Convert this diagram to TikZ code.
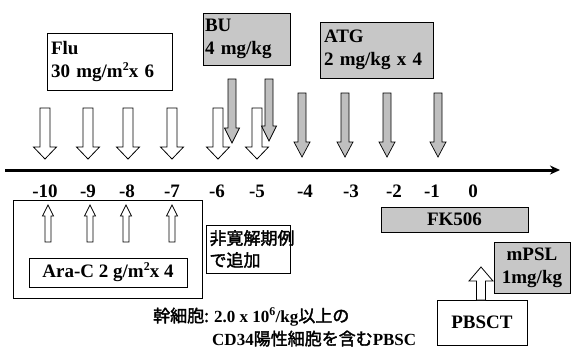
\documentclass[tikz,border=0pt]{standalone}
\usepackage{fontspec}
\setmainfont{Liberation Serif}
\newfontfamily\cjk[FakeBold=2]{Noto Sans CJK JP}
\usetikzlibrary{arrows.meta}

\newcommand{\blkdown}[7]{% x, top, tip, shaft w, head w, head h, style
  \draw[#7] ({#1-#4/2},#2) -- ({#1+#4/2},#2) -- ({#1+#4/2},{#3-#6}) -- ({#1+#5/2},{#3-#6}) -- (#1,#3) -- ({#1-#5/2},{#3-#6}) -- ({#1-#4/2},{#3-#6}) -- cycle;}
\newcommand{\blkup}[7]{% x, bottom, tip, shaft w, head w, head h, style
  \draw[#7] ({#1-#4/2},#2) -- ({#1+#4/2},#2) -- ({#1+#4/2},{#3+#6}) -- ({#1+#5/2},{#3+#6}) -- (#1,#3) -- ({#1-#5/2},{#3+#6}) -- ({#1-#4/2},{#3+#6}) -- cycle;}
\newcommand{\supr}[1]{\raisebox{0.38em}{\fontsize{12}{12}\selectfont #1}}

\tikzset{
  box/.style={draw=black, line width=0.9pt, fill=white, inner sep=0pt},
  graybox/.style={box, fill=black!22},
  lbl/.style={font=\bfseries\fontsize{19}{23}\selectfont},
  cj/.style={font=\cjk\fontsize{17}{22}\selectfont},
  ticklbl/.style={lbl, anchor=base},
  hollow/.style={draw=black, line width=0.8pt, fill=white},
  grayarr/.style={draw=black, line width=0.7pt, fill=black!25},
}

\begin{document}
\begin{tikzpicture}[x=1pt,y=-1pt]
\useasboundingbox (0,0) rectangle (572,349);

% timeline
\coordinate (tlstart) at (5,170);
\coordinate (tlend) at (560,170);
\draw[line width=3pt, -{Stealth[length=10pt,width=9pt]}] (tlstart) -- (tlend);

% tick labels
\node[ticklbl] (t10) at (45,197) {-10};
\node[ticklbl] (t9) at (88,197) {-9};
\node[ticklbl] (t8) at (127,197) {-8};
\node[ticklbl] (t7) at (172,197) {-7};
\node[ticklbl] (t6) at (217,197) {-6};
\node[ticklbl] (t5) at (257,197) {-5};
\node[ticklbl] (t4) at (305,197) {-4};
\node[ticklbl] (t3) at (351,197) {-3};
\node[ticklbl] (t2) at (394,197) {-2};
\node[ticklbl] (t1) at (432,197) {-1};
\node[ticklbl] (t0) at (473,197) {0};

% Flu
\node[box, lbl, minimum width=125pt, minimum height=57pt, text width=117pt, inner xsep=4pt, align=left] (flu) at (109.5,61.5) {Flu\\30 mg/m\supr{2}x 6};
\foreach \x in {45,88,128,172,218,257} {\blkdown{\x}{108}{159}{10}{23}{12}{hollow}}

% BU
\node[graybox, lbl, minimum width=87pt, minimum height=52pt, text width=83pt, inner xsep=2pt, align=left] (bu) at (246.5,39) {BU\\4 mg/kg};
\blkdown{232}{79}{143}{8}{15}{15}{grayarr}
\blkdown{269}{79}{141}{8}{15}{15}{grayarr}

% ATG
\node[graybox, lbl, minimum width=113pt, minimum height=56pt, text width=105pt, inner xsep=4pt, align=left] (atg) at (376.5,50) {ATG\\2 mg/kg x 4};
\foreach \x in {302,345,387,438} {\blkdown{\x}{93}{157}{8}{16}{15}{grayarr}}

% Ara-C
\node[box, minimum width=189pt, minimum height=98pt] (araout) at (107.5,249) {};
\node[box, lbl, minimum width=158pt, minimum height=29pt] (arain) at (108,272.5) {Ara-C 2 g/m\supr{2}x 4};
\foreach \x in {48,90,126,172} {\blkup{\x}{242}{205}{6}{11}{11}{hollow}}

% non-remission
\node[box, cj, minimum width=83pt, minimum height=48pt, text width=78pt, inner xsep=3pt, align=left] (nonrem) at (248.5,249) {非寛解期例\\で追加};

% FK506
\node[graybox, lbl, minimum width=147pt, minimum height=25pt] (fk) at (454.5,219.5) {FK506};

% mPSL
\node[graybox, lbl, minimum width=76pt, minimum height=51pt, align=center] (mpsl) at (532,267.5) {mPSL\\1mg/kg};

% PBSCT
\node[box, lbl, minimum width=90pt, minimum height=45pt] (pbsct) at (482,322.5) {PBSCT};
\blkup{481}{300}{267}{9}{24}{14}{hollow}

% stem cell note
\node[cj, anchor=base west, inner sep=0pt] (note1) at (153,322) {幹細胞: {\rmfamily\bfseries 2.0 x 10\textsuperscript{6}/kg}以上の};
\node[cj, anchor=base west, inner sep=0pt] (note2) at (212,345) {{\rmfamily\bfseries CD34}陽性細胞を含む{\rmfamily\bfseries PBSC}};
\end{tikzpicture}
\end{document}
